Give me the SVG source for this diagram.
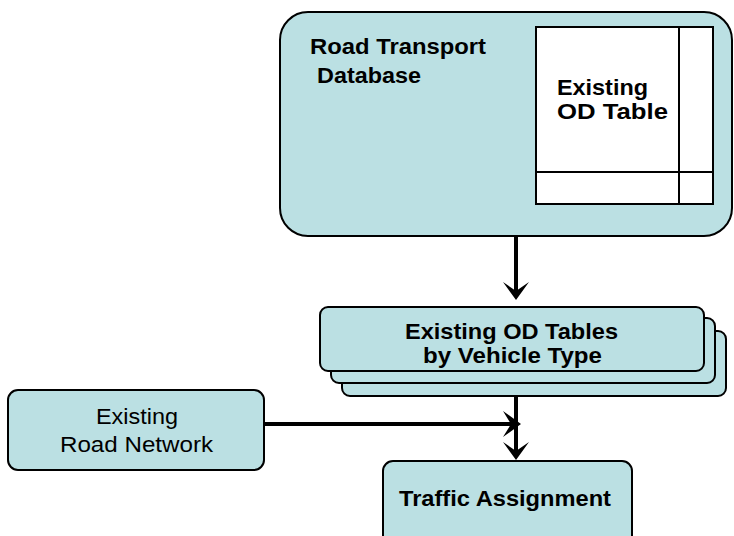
<svg xmlns="http://www.w3.org/2000/svg" width="734" height="536" viewBox="0 0 734 536">
<style>
.box{fill:#BBE0E3;stroke:#000;stroke-width:2}
.tbl{fill:#fff;stroke:#000;stroke-width:2}
.b{font-family:"Liberation Sans",Arial,sans-serif;font-weight:bold;font-size:22px;fill:#000}
.r{font-family:"Liberation Sans",Arial,sans-serif;font-size:22px;fill:#000}
.ln{stroke:#000;stroke-width:4;fill:none}
.hd{fill:#000;stroke:none}
</style>
<rect width="734" height="536" fill="#fff"/>
<g id="db">
<rect class="box" x="280" y="12" width="452" height="224" rx="28"/>
<text class="b"><tspan x="310" y="54" textLength="176" lengthAdjust="spacingAndGlyphs">Road Transport</tspan><tspan x="317" y="83" textLength="104" lengthAdjust="spacingAndGlyphs">Database</tspan></text>
</g>
<g id="odtable">
<rect class="tbl" x="536" y="27" width="177" height="177"/>
<line x1="679" y1="27" x2="679" y2="204" stroke="#000" stroke-width="2"/>
<line x1="536" y1="172" x2="713" y2="172" stroke="#000" stroke-width="2"/>
<text class="b"><tspan x="557" y="95" textLength="91" lengthAdjust="spacingAndGlyphs">Existing</tspan><tspan x="557" y="119" textLength="111" lengthAdjust="spacingAndGlyphs">OD Table</tspan></text>
</g>
<g id="odtables">
<rect class="box" x="342" y="331" width="384" height="65" rx="8"/>
<rect class="box" x="331" y="318" width="384" height="65" rx="8"/>
<rect class="box" x="320" y="307" width="384" height="64" rx="8"/>
<text class="b"><tspan x="405" y="339" textLength="213" lengthAdjust="spacingAndGlyphs">Existing OD Tables</tspan><tspan x="423" y="363" textLength="179" lengthAdjust="spacingAndGlyphs">by Vehicle Type</tspan></text>
</g>
<g id="network">
<rect class="box" x="8" y="390" width="256" height="80" rx="10"/>
<text class="r"><tspan x="96" y="424" textLength="82" lengthAdjust="spacingAndGlyphs">Existing</tspan><tspan x="60" y="452" textLength="153" lengthAdjust="spacingAndGlyphs">Road Network</tspan></text>
</g>
<g id="assign">
<rect class="box" x="383" y="461" width="249" height="95" rx="10"/>
<text class="b" x="399" y="506" textLength="212" lengthAdjust="spacingAndGlyphs">Traffic Assignment</text>
</g>
<g id="connectors">
<line class="ln" x1="516" y1="236" x2="516" y2="292"/>
<path class="hd" d="M503,282 L516,300 L529,282 L516,291 Z"/>
<line class="ln" x1="516" y1="396" x2="516" y2="452"/>
<path class="hd" d="M503,442 L516,460 L529,442 L516,451 Z"/>
<line class="ln" x1="264" y1="424" x2="512" y2="424"/>
<path class="hd" d="M503,411 L521,424 L503,437 L511,424 Z"/>
</g>
</svg>
